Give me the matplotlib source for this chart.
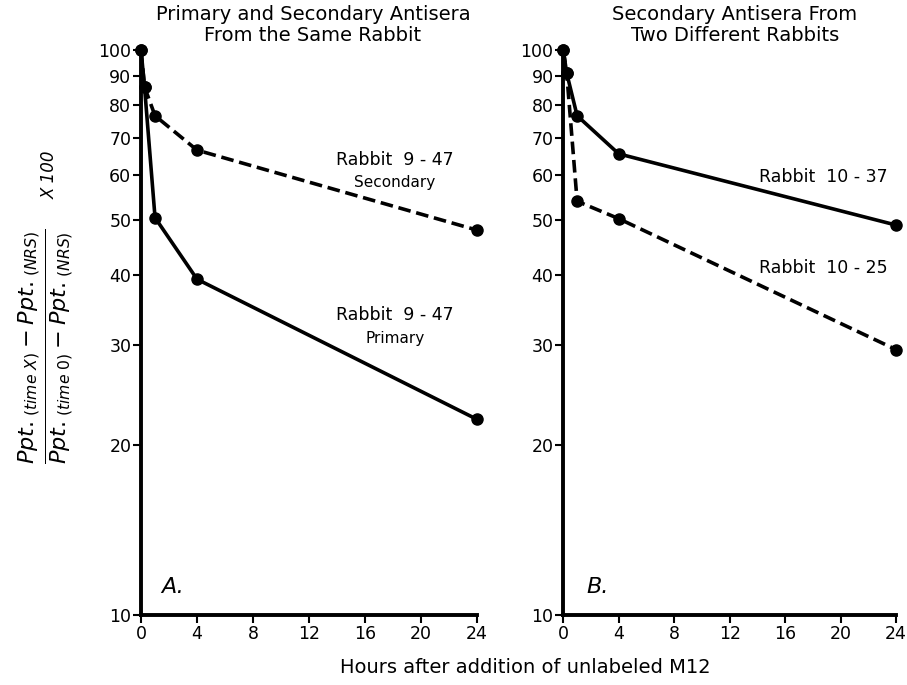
import matplotlib
matplotlib.use("Agg")
import matplotlib.pyplot as plt
from matplotlib.ticker import FixedLocator, FixedFormatter, NullLocator

# hours after addition of unlabeled M12
hours = [0, 0.25, 1, 4, 24]

# panel A: same rabbit 9-47
a_secondary = [100, 86, 76.5, 66.5, 48]
a_primary = [100, 86, 50.5, 39.3, 22.2]

# panel B: two rabbits, secondary antisera
b_10_37 = [100, 91, 76.5, 65.5, 49]
b_10_25 = [100, 91, 54, 50.3, 29.5]

yticks = [10, 20, 30, 40, 50, 60, 70, 80, 90, 100]
xticks = [0, 4, 8, 12, 16, 20, 24]

plt.rcParams["font.family"] = ["DejaVu Sans"]
plt.rcParams["mathtext.fontset"] = "dejavusans"

fig = plt.figure(figsize=(9.07, 6.85), dpi=100)
axA = fig.add_axes([0.1555, 0.102, 0.3705, 0.825])
axB = fig.add_axes([0.621, 0.102, 0.367, 0.825])

def style(ax):
    ax.set_yscale("log")
    ax.set_xlim(0, 24)
    ax.set_ylim(10, 100)
    for s in ["top", "right"]:
        ax.spines[s].set_visible(False)
    for s in ["left", "bottom"]:
        ax.spines[s].set_linewidth(2.8)
    ax.yaxis.set_major_locator(FixedLocator(yticks))
    ax.yaxis.set_major_formatter(FixedFormatter([str(v) for v in yticks]))
    ax.yaxis.set_minor_locator(NullLocator())
    ax.set_xticks(xticks)
    ax.tick_params(axis="both", length=6, width=1.5, labelsize=12.5, pad=1)

def series(ax, y, dashed):
    ax.plot(hours, y, color="black", lw=2.6, ls=(0, (3.5, 1.6)) if dashed else "-",
            marker="o", ms=8, clip_on=False)

style(axA)
series(axA, a_secondary, True)
series(axA, a_primary, False)
axA.text(0.756, 0.805, "Rabbit  9 - 47", transform=axA.transAxes, ha="center", va="center", fontsize=12.5)
axA.text(0.756, 0.765, "Secondary", transform=axA.transAxes, ha="center", va="center", fontsize=11)
axA.text(0.756, 0.531, "Rabbit  9 - 47", transform=axA.transAxes, ha="center", va="center", fontsize=12.5)
axA.text(0.756, 0.490, "Primary", transform=axA.transAxes, ha="center", va="center", fontsize=11)
axA.text(0.06, 0.04, "A.", transform=axA.transAxes, fontsize=16, style="italic")

style(axB)
series(axB, b_10_37, False)
series(axB, b_10_25, True)
axB.text(0.78, 0.775, "Rabbit  10 - 37", transform=axB.transAxes, ha="center", va="center", fontsize=12.5)
axB.text(0.78, 0.614, "Rabbit  10 - 25", transform=axB.transAxes, ha="center", va="center", fontsize=12.5)
axB.text(0.07, 0.04, "B.", transform=axB.transAxes, fontsize=16, style="italic")

fig.text(0.345, 0.992, "Primary and Secondary Antisera\nFrom the Same Rabbit",
         ha="center", va="top", fontsize=14, linespacing=1.1)
fig.text(0.81, 0.992, "Secondary Antisera From\nTwo Different Rabbits",
         ha="center", va="top", fontsize=14, linespacing=1.1)

fig.text(0.579, 0.018, "Hours after addition of unlabeled M12", ha="center", fontsize=14)

ylab = (r"$\frac{\mathit{Ppt._{(time\ X)}} - \mathit{Ppt._{(NRS)}}}"
        r"{\mathit{Ppt._{(time\ 0)}} - \mathit{Ppt._{(NRS)}}}$")
fig.text(0.05, 0.495, ylab, rotation=90, ha="center", va="center", fontsize=23)
fig.text(0.055, 0.745, "X 100", rotation=90, ha="center", va="center",
         fontsize=12, style="italic")

fig.savefig("out.png", dpi=100)
